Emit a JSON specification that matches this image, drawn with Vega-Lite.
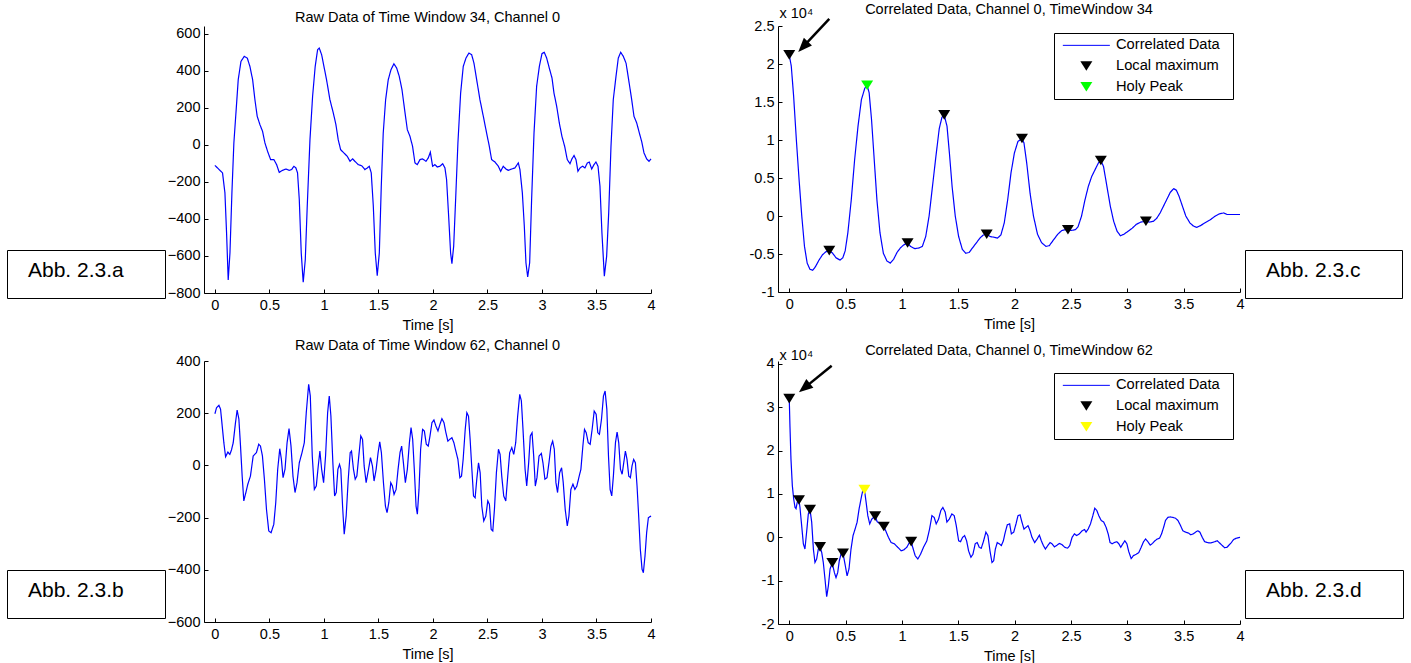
{
"$schema": "https://vega.github.io/schema/vega-lite/v6.json",
"background": "white",
"padding": {"left": 6, "top": 2, "right": 0, "bottom": 0},
"columns": 2,
"spacing": {"row": 68, "column": 127},
"bounds": "flush",
"resolve": {"scale": {"color": "independent", "shape": "independent", "strokeDash": "independent"}, "legend": {"color": "independent", "shape": "independent", "strokeDash": "independent"}},
"datasets": {
"rawA": [{"t":0,"v":-110},{"t":0.046,"v":-137},{"t":0.07,"v":-151},{"t":0.092,"v":-259},{"t":0.107,"v":-475},{"t":0.122,"v":-730},{"t":0.138,"v":-584},{"t":0.156,"v":-259},{"t":0.174,"v":11},{"t":0.193,"v":173},{"t":0.214,"v":353},{"t":0.239,"v":452},{"t":0.269,"v":479},{"t":0.297,"v":470},{"t":0.321,"v":425},{"t":0.346,"v":353},{"t":0.367,"v":245},{"t":0.388,"v":155},{"t":0.413,"v":110},{"t":0.437,"v":74},{"t":0.459,"v":11},{"t":0.483,"v":-34},{"t":0.511,"v":-79},{"t":0.541,"v":-79},{"t":0.566,"v":-106},{"t":0.59,"v":-148},{"t":0.621,"v":-137},{"t":0.651,"v":-130},{"t":0.682,"v":-137},{"t":0.703,"v":-133},{"t":0.725,"v":-115},{"t":0.743,"v":-124},{"t":0.758,"v":-151},{"t":0.774,"v":-295},{"t":0.792,"v":-584},{"t":0.81,"v":-742},{"t":0.829,"v":-620},{"t":0.847,"v":-331},{"t":0.872,"v":29},{"t":0.896,"v":263},{"t":0.92,"v":425},{"t":0.942,"v":515},{"t":0.957,"v":524},{"t":0.979,"v":488},{"t":1.0,"v":425},{"t":1.024,"v":353},{"t":1.055,"v":245},{"t":1.086,"v":173},{"t":1.11,"v":110},{"t":1.131,"v":29},{"t":1.153,"v":-25},{"t":1.183,"v":-43},{"t":1.214,"v":-61},{"t":1.239,"v":-88},{"t":1.263,"v":-75},{"t":1.284,"v":-88},{"t":1.315,"v":-106},{"t":1.346,"v":-112},{"t":1.376,"v":-133},{"t":1.398,"v":-124},{"t":1.416,"v":-115},{"t":1.434,"v":-151},{"t":1.453,"v":-331},{"t":1.471,"v":-584},{"t":1.489,"v":-706},{"t":1.508,"v":-584},{"t":1.526,"v":-223},{"t":1.544,"v":65},{"t":1.566,"v":245},{"t":1.59,"v":353},{"t":1.615,"v":407},{"t":1.642,"v":439},{"t":1.667,"v":416},{"t":1.691,"v":371},{"t":1.716,"v":299},{"t":1.74,"v":191},{"t":1.765,"v":83},{"t":1.789,"v":47},{"t":1.813,"v":-7},{"t":1.835,"v":-97},{"t":1.856,"v":-106},{"t":1.881,"v":-79},{"t":1.905,"v":-75},{"t":1.936,"v":-88},{"t":1.957,"v":-70},{"t":1.976,"v":-39},{"t":1.997,"v":-115},{"t":2.018,"v":-106},{"t":2.04,"v":-119},{"t":2.064,"v":-115},{"t":2.089,"v":-101},{"t":2.11,"v":-124},{"t":2.125,"v":-187},{"t":2.144,"v":-385},{"t":2.162,"v":-584},{"t":2.174,"v":-641},{"t":2.19,"v":-548},{"t":2.208,"v":-295},{"t":2.229,"v":11},{"t":2.254,"v":281},{"t":2.278,"v":425},{"t":2.303,"v":470},{"t":2.33,"v":497},{"t":2.355,"v":488},{"t":2.376,"v":443},{"t":2.401,"v":353},{"t":2.431,"v":245},{"t":2.462,"v":155},{"t":2.492,"v":65},{"t":2.517,"v":-7},{"t":2.538,"v":-79},{"t":2.569,"v":-92},{"t":2.6,"v":-115},{"t":2.621,"v":-142},{"t":2.645,"v":-115},{"t":2.67,"v":-130},{"t":2.691,"v":-137},{"t":2.722,"v":-130},{"t":2.752,"v":-124},{"t":2.783,"v":-97},{"t":2.798,"v":-133},{"t":2.82,"v":-259},{"t":2.838,"v":-439},{"t":2.853,"v":-637},{"t":2.869,"v":-713},{"t":2.887,"v":-637},{"t":2.905,"v":-295},{"t":2.927,"v":65},{"t":2.951,"v":317},{"t":2.976,"v":425},{"t":3.0,"v":494},{"t":3.021,"v":501},{"t":3.043,"v":470},{"t":3.067,"v":416},{"t":3.092,"v":362},{"t":3.11,"v":281},{"t":3.135,"v":209},{"t":3.159,"v":119},{"t":3.183,"v":47},{"t":3.208,"v":-7},{"t":3.232,"v":-79},{"t":3.257,"v":-101},{"t":3.275,"v":-75},{"t":3.294,"v":-57},{"t":3.312,"v":-79},{"t":3.33,"v":-142},{"t":3.349,"v":-124},{"t":3.373,"v":-115},{"t":3.394,"v":-124},{"t":3.416,"v":-97},{"t":3.434,"v":-92},{"t":3.456,"v":-130},{"t":3.477,"v":-106},{"t":3.495,"v":-92},{"t":3.514,"v":-115},{"t":3.532,"v":-223},{"t":3.55,"v":-475},{"t":3.572,"v":-709},{"t":3.593,"v":-602},{"t":3.612,"v":-367},{"t":3.633,"v":-7},{"t":3.654,"v":245},{"t":3.679,"v":371},{"t":3.7,"v":470},{"t":3.722,"v":501},{"t":3.746,"v":479},{"t":3.771,"v":443},{"t":3.795,"v":353},{"t":3.823,"v":245},{"t":3.844,"v":155},{"t":3.869,"v":119},{"t":3.893,"v":65},{"t":3.914,"v":20},{"t":3.936,"v":-43},{"t":3.96,"v":-75},{"t":3.982,"v":-88},{"t":4.0,"v":-75}],
"rawB": [{"t":0,"v":198},{"t":0.015,"v":221},{"t":0.037,"v":230},{"t":0.052,"v":215},{"t":0.067,"v":151},{"t":0.082,"v":87},{"t":0.098,"v":33},{"t":0.119,"v":51},{"t":0.137,"v":42},{"t":0.152,"v":59},{"t":0.168,"v":87},{"t":0.189,"v":164},{"t":0.204,"v":212},{"t":0.22,"v":177},{"t":0.235,"v":74},{"t":0.25,"v":-41},{"t":0.265,"v":-136},{"t":0.284,"v":-104},{"t":0.302,"v":-72},{"t":0.326,"v":-41},{"t":0.351,"v":36},{"t":0.381,"v":49},{"t":0.402,"v":81},{"t":0.418,"v":74},{"t":0.436,"v":36},{"t":0.454,"v":-53},{"t":0.473,"v":-168},{"t":0.494,"v":-251},{"t":0.515,"v":-258},{"t":0.54,"v":-226},{"t":0.558,"v":-143},{"t":0.576,"v":-15},{"t":0.595,"v":64},{"t":0.61,"v":23},{"t":0.625,"v":-47},{"t":0.643,"v":-15},{"t":0.662,"v":87},{"t":0.68,"v":141},{"t":0.698,"v":74},{"t":0.716,"v":-41},{"t":0.735,"v":-104},{"t":0.753,"v":-66},{"t":0.774,"v":10},{"t":0.799,"v":49},{"t":0.82,"v":87},{"t":0.838,"v":202},{"t":0.86,"v":311},{"t":0.875,"v":266},{"t":0.893,"v":36},{"t":0.912,"v":-92},{"t":0.93,"v":-79},{"t":0.948,"v":-2},{"t":0.963,"v":55},{"t":0.979,"v":-15},{"t":0.997,"v":-66},{"t":1.015,"v":36},{"t":1.034,"v":202},{"t":1.049,"v":266},{"t":1.064,"v":189},{"t":1.082,"v":10},{"t":1.098,"v":-117},{"t":1.113,"v":-104},{"t":1.128,"v":-15},{"t":1.143,"v":4},{"t":1.155,"v":-15},{"t":1.171,"v":-156},{"t":1.186,"v":-264},{"t":1.204,"v":-194},{"t":1.223,"v":-53},{"t":1.241,"v":49},{"t":1.253,"v":55},{"t":1.271,"v":-15},{"t":1.287,"v":-53},{"t":1.302,"v":-41},{"t":1.32,"v":36},{"t":1.338,"v":113},{"t":1.354,"v":100},{"t":1.369,"v":-2},{"t":1.387,"v":-66},{"t":1.409,"v":-15},{"t":1.427,"v":30},{"t":1.445,"v":-2},{"t":1.46,"v":-60},{"t":1.479,"v":-15},{"t":1.497,"v":49},{"t":1.512,"v":90},{"t":1.527,"v":49},{"t":1.546,"v":-66},{"t":1.564,"v":-156},{"t":1.579,"v":-181},{"t":1.595,"v":-143},{"t":1.613,"v":-66},{"t":1.628,"v":-79},{"t":1.643,"v":-111},{"t":1.662,"v":-92},{"t":1.68,"v":-15},{"t":1.698,"v":49},{"t":1.713,"v":74},{"t":1.729,"v":10},{"t":1.747,"v":-66},{"t":1.765,"v":-15},{"t":1.784,"v":87},{"t":1.799,"v":145},{"t":1.814,"v":100},{"t":1.829,"v":-15},{"t":1.845,"v":-156},{"t":1.857,"v":-187},{"t":1.872,"v":-92},{"t":1.887,"v":62},{"t":1.905,"v":138},{"t":1.921,"v":132},{"t":1.939,"v":81},{"t":1.957,"v":74},{"t":1.973,"v":113},{"t":1.991,"v":164},{"t":2.009,"v":174},{"t":2.027,"v":151},{"t":2.046,"v":132},{"t":2.064,"v":157},{"t":2.082,"v":179},{"t":2.101,"v":164},{"t":2.119,"v":125},{"t":2.137,"v":93},{"t":2.155,"v":100},{"t":2.174,"v":106},{"t":2.192,"v":87},{"t":2.21,"v":55},{"t":2.229,"v":23},{"t":2.247,"v":-47},{"t":2.262,"v":-41},{"t":2.277,"v":23},{"t":2.296,"v":138},{"t":2.311,"v":202},{"t":2.326,"v":189},{"t":2.341,"v":100},{"t":2.357,"v":-15},{"t":2.372,"v":-117},{"t":2.387,"v":-124},{"t":2.402,"v":-53},{"t":2.418,"v":10},{"t":2.433,"v":-28},{"t":2.448,"v":-156},{"t":2.466,"v":-213},{"t":2.485,"v":-194},{"t":2.503,"v":-136},{"t":2.518,"v":-149},{"t":2.534,"v":-245},{"t":2.549,"v":-251},{"t":2.564,"v":-168},{"t":2.582,"v":-28},{"t":2.601,"v":62},{"t":2.616,"v":42},{"t":2.631,"v":-41},{"t":2.649,"v":-117},{"t":2.668,"v":-136},{"t":2.686,"v":-41},{"t":2.704,"v":49},{"t":2.723,"v":68},{"t":2.741,"v":42},{"t":2.759,"v":87},{"t":2.777,"v":189},{"t":2.796,"v":272},{"t":2.811,"v":247},{"t":2.826,"v":138},{"t":2.845,"v":-15},{"t":2.86,"v":-79},{"t":2.878,"v":10},{"t":2.893,"v":113},{"t":2.909,"v":125},{"t":2.924,"v":36},{"t":2.939,"v":-79},{"t":2.954,"v":-47},{"t":2.973,"v":36},{"t":2.994,"v":46},{"t":3.009,"v":10},{"t":3.027,"v":-53},{"t":3.046,"v":-47},{"t":3.064,"v":10},{"t":3.082,"v":74},{"t":3.098,"v":93},{"t":3.113,"v":62},{"t":3.128,"v":-66},{"t":3.143,"v":-104},{"t":3.162,"v":-28},{"t":3.18,"v":-9},{"t":3.195,"v":-66},{"t":3.213,"v":-168},{"t":3.232,"v":-232},{"t":3.247,"v":-194},{"t":3.265,"v":-92},{"t":3.284,"v":-72},{"t":3.302,"v":-92},{"t":3.32,"v":-79},{"t":3.338,"v":-47},{"t":3.357,"v":-15},{"t":3.375,"v":74},{"t":3.39,"v":138},{"t":3.406,"v":125},{"t":3.424,"v":87},{"t":3.442,"v":81},{"t":3.46,"v":138},{"t":3.479,"v":208},{"t":3.497,"v":196},{"t":3.512,"v":125},{"t":3.527,"v":119},{"t":3.546,"v":177},{"t":3.564,"v":266},{"t":3.579,"v":285},{"t":3.595,"v":215},{"t":3.61,"v":36},{"t":3.625,"v":-92},{"t":3.64,"v":-117},{"t":3.655,"v":-41},{"t":3.674,"v":87},{"t":3.689,"v":128},{"t":3.704,"v":87},{"t":3.72,"v":-15},{"t":3.735,"v":-34},{"t":3.75,"v":10},{"t":3.765,"v":55},{"t":3.78,"v":23},{"t":3.796,"v":-41},{"t":3.811,"v":-47},{"t":3.826,"v":-2},{"t":3.841,"v":23},{"t":3.857,"v":10},{"t":3.872,"v":-79},{"t":3.887,"v":-194},{"t":3.902,"v":-321},{"t":3.918,"v":-398},{"t":3.93,"v":-411},{"t":3.945,"v":-347},{"t":3.96,"v":-258},{"t":3.976,"v":-200},{"t":4.0,"v":-194}],
"corrC": [{"t":0,"v":21200},{"t":0.018,"v":19700},{"t":0.039,"v":15700},{"t":0.063,"v":10000},{"t":0.087,"v":4800},{"t":0.111,"v":0},{"t":0.135,"v":-4000},{"t":0.159,"v":-6200},{"t":0.183,"v":-7000},{"t":0.207,"v":-7150},{"t":0.231,"v":-6700},{"t":0.264,"v":-5800},{"t":0.295,"v":-5100},{"t":0.325,"v":-4700},{"t":0.355,"v":-4550},{"t":0.385,"v":-4900},{"t":0.415,"v":-5500},{"t":0.451,"v":-5800},{"t":0.475,"v":-5500},{"t":0.496,"v":-4600},{"t":0.52,"v":-2200},{"t":0.55,"v":2100},{"t":0.58,"v":7400},{"t":0.61,"v":11800},{"t":0.64,"v":15300},{"t":0.67,"v":16800},{"t":0.691,"v":17200},{"t":0.709,"v":16200},{"t":0.73,"v":12700},{"t":0.754,"v":7400},{"t":0.778,"v":2100},{"t":0.805,"v":-2200},{"t":0.835,"v":-4900},{"t":0.866,"v":-5900},{"t":0.896,"v":-6200},{"t":0.926,"v":-5700},{"t":0.956,"v":-4800},{"t":0.986,"v":-4200},{"t":1.016,"v":-3800},{"t":1.05,"v":-3550},{"t":1.076,"v":-4000},{"t":1.115,"v":-4300},{"t":1.151,"v":-4200},{"t":1.181,"v":-4000},{"t":1.211,"v":-2700},{"t":1.241,"v":0},{"t":1.271,"v":3900},{"t":1.301,"v":7800},{"t":1.331,"v":11500},{"t":1.355,"v":13000},{"t":1.375,"v":13300},{"t":1.4,"v":11800},{"t":1.421,"v":8300},{"t":1.445,"v":3900},{"t":1.473,"v":0},{"t":1.503,"v":-2700},{"t":1.536,"v":-4400},{"t":1.566,"v":-4900},{"t":1.596,"v":-4800},{"t":1.626,"v":-4200},{"t":1.662,"v":-3500},{"t":1.692,"v":-2900},{"t":1.722,"v":-2500},{"t":1.752,"v":-2400},{"t":1.782,"v":-2700},{"t":1.818,"v":-2800},{"t":1.848,"v":-2900},{"t":1.878,"v":-2500},{"t":1.908,"v":-900},{"t":1.938,"v":2100},{"t":1.968,"v":5700},{"t":1.998,"v":8300},{"t":2.029,"v":9800},{"t":2.065,"v":10200},{"t":2.083,"v":9600},{"t":2.107,"v":7000},{"t":2.137,"v":3000},{"t":2.167,"v":0},{"t":2.203,"v":-2400},{"t":2.239,"v":-3500},{"t":2.278,"v":-4000},{"t":2.308,"v":-3900},{"t":2.347,"v":-3100},{"t":2.383,"v":-2400},{"t":2.419,"v":-1900},{"t":2.449,"v":-1800},{"t":2.473,"v":-1800},{"t":2.503,"v":-1900},{"t":2.539,"v":-1800},{"t":2.563,"v":-1400},{"t":2.594,"v":0},{"t":2.624,"v":2100},{"t":2.654,"v":3900},{"t":2.684,"v":5200},{"t":2.714,"v":6100},{"t":2.744,"v":7000},{"t":2.765,"v":7300},{"t":2.789,"v":6500},{"t":2.819,"v":3900},{"t":2.849,"v":1300},{"t":2.879,"v":-700},{"t":2.909,"v":-2000},{"t":2.939,"v":-2600},{"t":2.969,"v":-2400},{"t":3.008,"v":-2000},{"t":3.044,"v":-1600},{"t":3.08,"v":-1100},{"t":3.119,"v":-800},{"t":3.165,"v":-700},{"t":3.195,"v":-800},{"t":3.231,"v":-700},{"t":3.261,"v":-300},{"t":3.291,"v":400},{"t":3.321,"v":1300},{"t":3.351,"v":2200},{"t":3.381,"v":3100},{"t":3.411,"v":3600},{"t":3.435,"v":3400},{"t":3.459,"v":2600},{"t":3.489,"v":1300},{"t":3.519,"v":0},{"t":3.555,"v":-900},{"t":3.585,"v":-1300},{"t":3.615,"v":-1500},{"t":3.645,"v":-1300},{"t":3.69,"v":-900},{"t":3.736,"v":-500},{"t":3.781,"v":0},{"t":3.82,"v":300},{"t":3.856,"v":400},{"t":3.886,"v":200},{"t":3.946,"v":200},{"t":4.0,"v":200}],
"corrD": [{"t":0,"v":32000},{"t":0.006,"v":25800},{"t":0.015,"v":18100},{"t":0.027,"v":12000},{"t":0.039,"v":8900},{"t":0.051,"v":6900},{"t":0.06,"v":6600},{"t":0.071,"v":8100},{"t":0.086,"v":8600},{"t":0.095,"v":6900},{"t":0.11,"v":2700},{"t":0.125,"v":-1500},{"t":0.139,"v":-2700},{"t":0.154,"v":1200},{"t":0.169,"v":5400},{"t":0.184,"v":6400},{"t":0.199,"v":3500},{"t":0.214,"v":-2700},{"t":0.228,"v":-5800},{"t":0.243,"v":-5000},{"t":0.258,"v":-2700},{"t":0.273,"v":-2200},{"t":0.288,"v":-3500},{"t":0.302,"v":-5800},{"t":0.317,"v":-9600},{"t":0.332,"v":-13700},{"t":0.347,"v":-11200},{"t":0.362,"v":-7300},{"t":0.382,"v":-5900},{"t":0.4,"v":-8100},{"t":0.415,"v":-9300},{"t":0.43,"v":-8100},{"t":0.444,"v":-5400},{"t":0.459,"v":-3900},{"t":0.477,"v":-3700},{"t":0.495,"v":-6200},{"t":0.513,"v":-8900},{"t":0.53,"v":-7300},{"t":0.548,"v":-2700},{"t":0.566,"v":400},{"t":0.584,"v":1900},{"t":0.602,"v":3500},{"t":0.62,"v":6600},{"t":0.637,"v":8900},{"t":0.652,"v":10800},{"t":0.667,"v":11000},{"t":0.682,"v":8100},{"t":0.697,"v":5000},{"t":0.714,"v":3100},{"t":0.732,"v":4200},{"t":0.762,"v":4900},{"t":0.78,"v":3600},{"t":0.806,"v":3100},{"t":0.839,"v":2500},{"t":0.856,"v":1500},{"t":0.88,"v":0},{"t":0.904,"v":-1200},{"t":0.933,"v":-1500},{"t":0.963,"v":-2300},{"t":0.993,"v":-3100},{"t":1.016,"v":-2900},{"t":1.043,"v":-2300},{"t":1.064,"v":-1300},{"t":1.082,"v":-1000},{"t":1.1,"v":-2700},{"t":1.117,"v":-4200},{"t":1.141,"v":-5000},{"t":1.165,"v":-3900},{"t":1.191,"v":-2300},{"t":1.221,"v":-800},{"t":1.245,"v":1900},{"t":1.266,"v":5000},{"t":1.286,"v":4600},{"t":1.304,"v":3100},{"t":1.325,"v":4200},{"t":1.345,"v":6200},{"t":1.363,"v":6900},{"t":1.384,"v":5800},{"t":1.399,"v":3500},{"t":1.42,"v":4200},{"t":1.443,"v":5400},{"t":1.464,"v":5000},{"t":1.482,"v":2700},{"t":1.503,"v":-800},{"t":1.52,"v":-1000},{"t":1.538,"v":0},{"t":1.556,"v":400},{"t":1.574,"v":-800},{"t":1.591,"v":-3100},{"t":1.612,"v":-4600},{"t":1.63,"v":-3900},{"t":1.65,"v":-1500},{"t":1.668,"v":-1200},{"t":1.686,"v":-2300},{"t":1.704,"v":-2500},{"t":1.725,"v":-800},{"t":1.745,"v":1200},{"t":1.763,"v":400},{"t":1.781,"v":-3100},{"t":1.799,"v":-5800},{"t":1.814,"v":-5400},{"t":1.829,"v":-2700},{"t":1.846,"v":-1200},{"t":1.864,"v":-1500},{"t":1.882,"v":-1900},{"t":1.9,"v":-800},{"t":1.917,"v":1200},{"t":1.935,"v":2900},{"t":1.956,"v":3100},{"t":1.971,"v":800},{"t":1.992,"v":1200},{"t":2.012,"v":3100},{"t":2.03,"v":5000},{"t":2.048,"v":5200},{"t":2.065,"v":3500},{"t":2.083,"v":1900},{"t":2.101,"v":2300},{"t":2.119,"v":2700},{"t":2.137,"v":1500},{"t":2.154,"v":0},{"t":2.178,"v":-1200},{"t":2.199,"v":-400},{"t":2.22,"v":500},{"t":2.237,"v":-800},{"t":2.255,"v":-1900},{"t":2.273,"v":-2700},{"t":2.294,"v":-1900},{"t":2.314,"v":-1200},{"t":2.332,"v":-1500},{"t":2.353,"v":-2200},{"t":2.377,"v":-1800},{"t":2.397,"v":-1400},{"t":2.421,"v":-1700},{"t":2.445,"v":-2300},{"t":2.469,"v":-2500},{"t":2.489,"v":-1900},{"t":2.51,"v":0},{"t":2.531,"v":800},{"t":2.551,"v":400},{"t":2.575,"v":800},{"t":2.599,"v":1500},{"t":2.62,"v":1800},{"t":2.634,"v":1200},{"t":2.652,"v":1900},{"t":2.673,"v":3100},{"t":2.694,"v":5000},{"t":2.711,"v":6700},{"t":2.729,"v":6200},{"t":2.747,"v":5000},{"t":2.768,"v":3900},{"t":2.791,"v":3500},{"t":2.812,"v":2300},{"t":2.83,"v":800},{"t":2.847,"v":-1200},{"t":2.865,"v":-1500},{"t":2.886,"v":-1200},{"t":2.907,"v":-1000},{"t":2.925,"v":-1500},{"t":2.942,"v":-2300},{"t":2.96,"v":-1500},{"t":2.978,"v":-800},{"t":2.996,"v":-1500},{"t":3.013,"v":-3300},{"t":3.034,"v":-4900},{"t":3.055,"v":-4200},{"t":3.079,"v":-3900},{"t":3.102,"v":-3500},{"t":3.123,"v":-2300},{"t":3.144,"v":-1000},{"t":3.162,"v":-400},{"t":3.182,"v":-1000},{"t":3.203,"v":-1800},{"t":3.224,"v":-1400},{"t":3.245,"v":-800},{"t":3.265,"v":-400},{"t":3.286,"v":-200},{"t":3.304,"v":800},{"t":3.322,"v":2300},{"t":3.339,"v":3900},{"t":3.36,"v":4600},{"t":3.381,"v":4700},{"t":3.404,"v":4600},{"t":3.428,"v":4400},{"t":3.449,"v":3900},{"t":3.469,"v":2900},{"t":3.493,"v":1500},{"t":3.517,"v":1200},{"t":3.541,"v":1000},{"t":3.564,"v":600},{"t":3.585,"v":800},{"t":3.606,"v":1200},{"t":3.626,"v":1500},{"t":3.644,"v":1200},{"t":3.665,"v":0},{"t":3.686,"v":-1000},{"t":3.709,"v":-1200},{"t":3.733,"v":-1300},{"t":3.754,"v":-1200},{"t":3.777,"v":-1000},{"t":3.798,"v":-800},{"t":3.819,"v":-1300},{"t":3.843,"v":-1900},{"t":3.864,"v":-2400},{"t":3.885,"v":-2300},{"t":3.902,"v":-1800},{"t":3.923,"v":-1200},{"t":3.944,"v":-500},{"t":3.967,"v":-200},{"t":4.0,"v":0}],
"peaksC": [{"t":0,"v":21200,"series":"Local maximum"},{"t":0.355,"v":-4550,"series":"Local maximum"},{"t":0.691,"v":17200,"series":"Holy Peak"},{"t":1.05,"v":-3550,"series":"Local maximum"},{"t":1.375,"v":13300,"series":"Local maximum"},{"t":1.752,"v":-2400,"series":"Local maximum"},{"t":2.065,"v":10200,"series":"Local maximum"},{"t":2.473,"v":-1800,"series":"Local maximum"},{"t":2.765,"v":7300,"series":"Local maximum"},{"t":3.165,"v":-700,"series":"Local maximum"}],
"peaksD": [{"t":0,"v":32000,"series":"Local maximum"},{"t":0.086,"v":8600,"series":"Local maximum"},{"t":0.184,"v":6400,"series":"Local maximum"},{"t":0.273,"v":-2200,"series":"Local maximum"},{"t":0.382,"v":-5900,"series":"Local maximum"},{"t":0.477,"v":-3700,"series":"Local maximum"},{"t":0.667,"v":11000,"series":"Holy Peak"},{"t":0.762,"v":4900,"series":"Local maximum"},{"t":0.839,"v":2500,"series":"Local maximum"},{"t":1.082,"v":-1000,"series":"Local maximum"}]
},
"concat": [
{
 "width": 447, "height": 267,
 "title": {"text": "Raw Data of Time Window 34, Channel 0", "offset": 0},
 "data": {"name": "rawA"},
 "mark": {"type": "line", "color": "#0000ff", "strokeWidth": 1.2},
 "encoding": {
  "x": {"field": "t", "type": "quantitative", "scale": {"domain": [-0.1, 4], "nice": false, "zero": false}, "axis": {"values": [0,0.5,1,1.5,2,2.5,3,3.5,4], "labelExpr": "datum.value", "title": "Time [s]"}},
  "y": {"field": "v", "type": "quantitative", "scale": {"domain": [-800, 643.2], "nice": false, "zero": false}, "axis": {"values": [-800,-600,-400,-200,0,200,400,600], "title": null}},
  "strokeDash": {"datum": "Abb. 2.3.a", "type": "nominal", "scale": {"range": [[1, 0]]}, "legend": {"orient": "none", "legendX": -197, "legendY": 224, "title": null, "padding": 2, "strokeColor": "#000", "fillColor": "#fff", "labelFontSize": 21, "labelBaseline": "alphabetic", "labelOffset": -31, "labelLimit": 400, "labelExpr": "datum.label + '\u00a0\u00a0\u00a0\u00a0\u00a0\u00a0\u2009\u200b'", "symbolType": "M-1,-1L-1,0.741", "symbolSize": 2440, "symbolStrokeWidth": 0, "symbolOpacity": 0, "encode": {"legend": {"strokeWidth": {"value": 2}}}}}
 }
},
{
 "width": 462, "height": 266,
 "title": {"text": "Correlated Data, Channel 0, TimeWindow 34", "offset": -12.5},
 "encoding": {
  "x": {"field": "t", "type": "quantitative", "scale": {"domain": [-0.1, 4], "nice": false, "zero": false}, "axis": {"values": [0,0.5,1,1.5,2,2.5,3,3.5,4], "labelExpr": "datum.value", "title": "Time [s]"}},
  "y": {"field": "v", "type": "quantitative", "scale": {"domain": [-10000, 25000], "nice": false, "zero": false}, "axis": {"values": [-10000,-5000,0,5000,10000,15000,20000,25000], "labelExpr": "datum.value / 10000", "title": "x 10\u2074", "titleAngle": 0, "titleAlign": "left", "titleBaseline": "alphabetic", "titleX": 1, "titleY": -9}}
 },
 "layer": [
  {"data": {"name": "corrC"}, "mark": {"type": "line", "color": "#0000ff", "strokeWidth": 1.2},
   "encoding": {"strokeDash": {"datum": "Abb. 2.3.c", "type": "nominal", "scale": {"range": [[1, 0]]}, "legend": {"orient": "none", "legendX": 467, "legendY": 224, "title": null, "padding": 2, "strokeColor": "#000", "fillColor": "#fff", "labelFontSize": 21, "labelBaseline": "alphabetic", "labelOffset": -31, "labelLimit": 400, "labelExpr": "datum.label + '\u00a0\u00a0\u00a0\u00a0\u00a0\u00a0\u2009\u200b'", "symbolType": "M-1,-1L-1,0.741", "symbolSize": 2440, "symbolStrokeWidth": 0, "symbolOpacity": 0, "encode": {"legend": {"strokeWidth": {"value": 2}}}}}}},
  {"data": {"name": "peaksC"}, "mark": {"type": "point", "filled": true, "opacity": 1, "size": 144},
   "encoding": {
    "color": {"field": "series", "type": "nominal", "scale": {"domain": ["Correlated Data", "Local maximum", "Holy Peak"], "range": ["#0000ff", "#000000", "#00ff00"]}, "legend": {"orient": "none", "legendX": 276, "legendY": 7, "title": null, "padding": 5, "strokeColor": "#000", "fillColor": "#fff", "labelFontSize": 14.7, "labelLimit": 400, "labelExpr": "datum.label + '\u00a0\u00a0\u200b'", "symbolSize": 144, "symbolStrokeWidth": 1, "symbolStrokeColor": {"expr": "datum.value === 'Correlated Data' ? '#0000ff' : 'transparent'"}, "symbolOffset": 20, "labelOffset": 22.3, "rowPadding": 4.7, "symbolOpacity": 1, "encode": {"legend": {"strokeWidth": {"value": 1.5}}}}},
    "shape": {"field": "series", "type": "nominal", "scale": {"domain": ["Correlated Data", "Local maximum", "Holy Peak"], "range": ["M-3.92,0L3.92,0", "M-1,-0.8L1,-0.8L0,0.8Z", "M-1,-0.8L1,-0.8L0,0.8Z"]}, "legend": {"orient": "none", "legendX": 276, "legendY": 7, "title": null, "padding": 5, "strokeColor": "#000", "fillColor": "#fff", "labelFontSize": 14.7, "labelLimit": 400, "labelExpr": "datum.label + '\u00a0\u00a0\u200b'", "symbolSize": 144, "symbolStrokeWidth": 1, "symbolStrokeColor": {"expr": "datum.value === 'Correlated Data' ? '#0000ff' : 'transparent'"}, "symbolOffset": 20, "labelOffset": 22.3, "rowPadding": 4.7, "symbolOpacity": 1, "encode": {"legend": {"strokeWidth": {"value": 1.5}}}}}
   }},
  {"data": {"name": "peaksC"}, "transform": [{"filter": "datum.t === 0"}], "mark": {"type": "rule", "color": "#000", "strokeWidth": 2.5, "xOffset": 40, "yOffset": -36, "x2Offset": 17.5, "y2Offset": -12},
   "encoding": {"x2": {"field": "t"}, "y2": {"field": "v"}}},
  {"data": {"name": "peaksC"}, "transform": [{"filter": "datum.t === 0"}], "mark": {"type": "point", "shape": "M0,0L0.4,1L-0.4,1Z", "size": 784, "filled": true, "color": "#000", "opacity": 1, "angle": 223.5, "xOffset": 9, "yOffset": -3}, "encoding": {}}
 ]
},
{
 "width": 447, "height": 261,
 "title": {"text": "Raw Data of Time Window 62, Channel 0", "offset": -0.5},
 "data": {"name": "rawB"},
 "mark": {"type": "line", "color": "#0000ff", "strokeWidth": 1.2},
 "encoding": {
  "x": {"field": "t", "type": "quantitative", "scale": {"domain": [-0.1, 4], "nice": false, "zero": false}, "axis": {"values": [0,0.5,1,1.5,2,2.5,3,3.5,4], "labelExpr": "datum.value", "title": "Time [s]"}},
  "y": {"field": "v", "type": "quantitative", "scale": {"domain": [-600, 400], "nice": false, "zero": false}, "axis": {"values": [-600,-400,-200,0,200,400], "title": null}},
  "strokeDash": {"datum": "Abb. 2.3.b", "type": "nominal", "scale": {"range": [[1, 0]]}, "legend": {"orient": "none", "legendX": -197, "legendY": 209, "title": null, "padding": 2, "strokeColor": "#000", "fillColor": "#fff", "labelFontSize": 21, "labelBaseline": "alphabetic", "labelOffset": -31, "labelLimit": 400, "labelExpr": "datum.label + '\u00a0\u00a0\u00a0\u00a0\u00a0\u00a0\u2009\u200b'", "symbolType": "M-1,-1L-1,0.741", "symbolSize": 2440, "symbolStrokeWidth": 0, "symbolOpacity": 0, "encode": {"legend": {"strokeWidth": {"value": 2}}}}}
 }
},
{
 "width": 462, "height": 263,
 "title": {"text": "Correlated Data, Channel 0, TimeWindow 62", "offset": -11},
 "encoding": {
  "x": {"field": "t", "type": "quantitative", "scale": {"domain": [-0.1, 4], "nice": false, "zero": false}, "axis": {"values": [0,0.5,1,1.5,2,2.5,3,3.5,4], "labelExpr": "datum.value", "title": "Time [s]"}},
  "y": {"field": "v", "type": "quantitative", "scale": {"domain": [-20000, 40692], "nice": false, "zero": false}, "axis": {"values": [-20000,-10000,0,10000,20000,30000,40000], "labelExpr": "datum.value / 10000", "title": "x 10\u2074", "titleAngle": 0, "titleAlign": "left", "titleBaseline": "alphabetic", "titleX": 1, "titleY": -1.5}}
 },
 "layer": [
  {"data": {"name": "corrD"}, "mark": {"type": "line", "color": "#0000ff", "strokeWidth": 1.2},
   "encoding": {"strokeDash": {"datum": "Abb. 2.3.d", "type": "nominal", "scale": {"range": [[1, 0]]}, "legend": {"orient": "none", "legendX": 467, "legendY": 209, "title": null, "padding": 2, "strokeColor": "#000", "fillColor": "#fff", "labelFontSize": 21, "labelBaseline": "alphabetic", "labelOffset": -31, "labelLimit": 400, "labelExpr": "datum.label + '\u00a0\u00a0\u00a0\u00a0\u00a0\u00a0\u2009\u200b'", "symbolType": "M-1,-1L-1,0.741", "symbolSize": 2440, "symbolStrokeWidth": 0, "symbolOpacity": 0, "encode": {"legend": {"strokeWidth": {"value": 2}}}}}}},
  {"data": {"name": "peaksD"}, "mark": {"type": "point", "filled": true, "opacity": 1, "size": 144},
   "encoding": {
    "color": {"field": "series", "type": "nominal", "scale": {"domain": ["Correlated Data", "Local maximum", "Holy Peak"], "range": ["#0000ff", "#000000", "#ffff00"]}, "legend": {"orient": "none", "legendX": 276, "legendY": 12, "title": null, "padding": 5, "strokeColor": "#000", "fillColor": "#fff", "labelFontSize": 14.7, "labelLimit": 400, "labelExpr": "datum.label + '\u00a0\u00a0\u200b'", "symbolSize": 144, "symbolStrokeWidth": 1, "symbolStrokeColor": {"expr": "datum.value === 'Correlated Data' ? '#0000ff' : 'transparent'"}, "symbolOffset": 20, "labelOffset": 22.3, "rowPadding": 4.7, "symbolOpacity": 1, "encode": {"legend": {"strokeWidth": {"value": 1.5}}}}},
    "shape": {"field": "series", "type": "nominal", "scale": {"domain": ["Correlated Data", "Local maximum", "Holy Peak"], "range": ["M-3.92,0L3.92,0", "M-1,-0.8L1,-0.8L0,0.8Z", "M-1,-0.8L1,-0.8L0,0.8Z"]}, "legend": {"orient": "none", "legendX": 276, "legendY": 12, "title": null, "padding": 5, "strokeColor": "#000", "fillColor": "#fff", "labelFontSize": 14.7, "labelLimit": 400, "labelExpr": "datum.label + '\u00a0\u00a0\u200b'", "symbolSize": 144, "symbolStrokeWidth": 1, "symbolStrokeColor": {"expr": "datum.value === 'Correlated Data' ? '#0000ff' : 'transparent'"}, "symbolOffset": 20, "labelOffset": 22.3, "rowPadding": 4.7, "symbolOpacity": 1, "encode": {"legend": {"strokeWidth": {"value": 1.5}}}}}
   }},
  {"data": {"name": "peaksD"}, "transform": [{"filter": "datum.t === 0"}], "mark": {"type": "rule", "color": "#000", "strokeWidth": 2.5, "xOffset": 42.4, "yOffset": -33, "x2Offset": 19.5, "y2Offset": -14.3},
   "encoding": {"x2": {"field": "t"}, "y2": {"field": "v"}}},
  {"data": {"name": "peaksD"}, "transform": [{"filter": "datum.t === 0"}], "mark": {"type": "point", "shape": "M0,0L0.4,1L-0.4,1Z", "size": 784, "filled": true, "color": "#000", "opacity": 1, "angle": 230.9, "xOffset": 9.7, "yOffset": -6.4}, "encoding": {}}
 ]
}
],
"config": {
 "font": "Liberation Sans",
 "view": {"stroke": null},
 "axis": {"grid": false, "domainColor": "#000", "domainWidth": 1, "tickColor": "#000", "tickWidth": 1, "tickSize": -4, "labelColor": "#000", "labelFont": "Liberation Sans", "labelFontSize": 14.5, "labelFlush": false, "labelOverlap": false, "titleColor": "#000", "titleFont": "Liberation Sans", "titleFontSize": 14.5, "titleFontWeight": "normal"},
 "axisX": {"labelPadding": 9, "titlePadding": 7},
 "axisY": {"labelPadding": 8},
 "title": {"font": "Liberation Sans", "fontSize": 14.5, "fontWeight": "normal", "color": "#000", "anchor": "middle", "frame": "group", "baseline": "alphabetic"},
 "legend": {"labelFont": "Liberation Sans", "labelColor": "#000"}
}
}
